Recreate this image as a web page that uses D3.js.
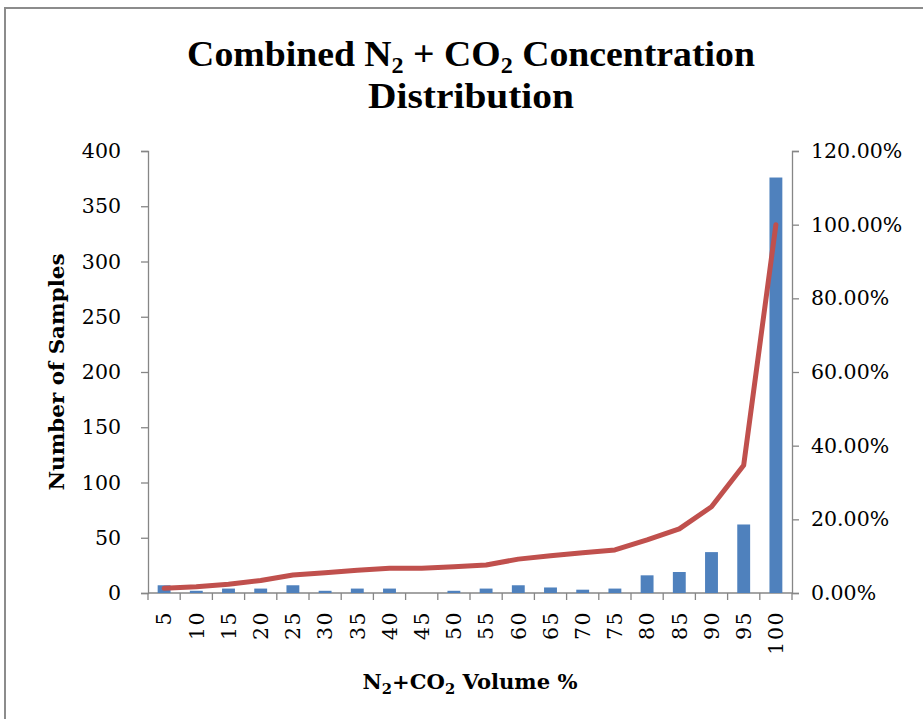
<!DOCTYPE html>
<html><head><meta charset="utf-8">
<script src="https://cdn.jsdelivr.net/npm/d3@7"></script>
<style>body{margin:0;background:#fff}svg{display:block}</style>
</head><body>
<svg id="c" width="923" height="719"></svg>
<script>
const categories = ["5","10","15","20","25","30","35","40","45","50","55","60","65","70","75","80","85","90","95","100"];
const sampleCounts = [7,2,4,4,7,2,4,4,0,2,4,7,5,3,4,16,19,37,62,376];
const cumulativePct = [0.0128,0.017,0.024,0.034,0.049,0.055,0.062,0.067,0.067,0.071,0.076,0.092,0.101,0.109,0.117,0.144,0.174,0.234,0.347,1.0];
const leftTicks = [0,50,100,150,200,250,300,350,400];
const rightTicks = [0,0.2,0.4,0.6,0.8,1.0,1.2];

const svg = d3.select("#c");
const W = 923, H = 719;
const L = 148, R = 792, T = 151, B = 593;
const serif = "'DejaVu Serif', serif";
const axisColor = "#868686";

// chart frame
svg.append("rect").attr("x",5).attr("y",8).attr("width",W+20).attr("height",H+20)
  .attr("fill","#fff").attr("stroke","#8c8c8c").attr("stroke-width",2);

const x = d3.scaleBand().domain(categories).range([L,R]).padding(0);
const yL = d3.scaleLinear().domain([0,400]).range([B,T]);
const yR = d3.scaleLinear().domain([0,1.2]).range([B,T]);

// left axis
const gl = svg.append("g").attr("transform",`translate(${L},0)`)
  .call(d3.axisLeft(yL).tickValues(leftTicks).tickSize(7).tickPadding(20));
// right axis
const gr = svg.append("g").attr("transform",`translate(${R},0)`)
  .call(d3.axisRight(yR).tickValues(rightTicks).tickFormat(d3.format(".2%")).tickSize(7).tickPadding(12));
[gl,gr].forEach(g=>{
  g.select(".domain").attr("stroke",axisColor).attr("stroke-width",1.3);
  g.selectAll(".tick line").attr("stroke",axisColor).attr("stroke-width",1.3);
  g.selectAll(".tick text").attr("font-family",serif).attr("font-size",20.5).attr("fill","#000");
});

// x axis: line and boundary ticks
const gx = svg.append("g");
gx.append("line").attr("x1",L).attr("x2",R).attr("y1",B).attr("y2",B)
  .attr("stroke",axisColor).attr("stroke-width",1.3);
const bounds = categories.map(c=>x(c)).concat([x(categories[categories.length-1])+x.bandwidth()]);
gx.selectAll("line.tk").data(bounds).join("line").attr("class","tk")
  .attr("x1",d=>d).attr("x2",d=>d).attr("y1",B).attr("y2",B+7)
  .attr("stroke",axisColor).attr("stroke-width",1.3);
gx.selectAll("text").data(categories).join("text")
  .attr("transform",d=>`translate(${x(d)+x.bandwidth()/2},611) rotate(-90)`)
  .attr("text-anchor","end").attr("dy","0.36em")
  .attr("font-family",serif).attr("font-size",20.5).attr("letter-spacing",1.5)
  .text(d=>d);

// bars
const bw = x.bandwidth()*0.4;
svg.append("g").selectAll("rect").data(categories).join("rect")
  .attr("x",(d)=>x(d)+x.bandwidth()/2-bw/2)
  .attr("width",bw)
  .attr("y",(d,i)=>yL(sampleCounts[i]))
  .attr("height",(d,i)=>B-yL(sampleCounts[i]))
  .attr("fill","#4F81BD");

// cumulative line
const line = d3.line()
  .x((d,i)=>x(categories[i])+x.bandwidth()/2)
  .y(d=>yR(d));
svg.append("path").datum(cumulativePct).attr("d",line)
  .attr("fill","none").attr("stroke","#C0504D").attr("stroke-width",5)
  .attr("stroke-linecap","round").attr("stroke-linejoin","round");

// helper to fit text width horizontally
function fit(t, cx, y, target){
  const w = t.node().getComputedTextLength();
  const s = target / w;
  t.attr("text-anchor","middle").attr("transform",`translate(${cx},${y}) scale(${s},1)`);
}
const titleFont = "'Liberation Serif', serif";
// title line 1
const t1 = svg.append("text").attr("font-family",titleFont).attr("font-weight","bold").attr("font-size",36);
t1.append("tspan").text("Combined N");
t1.append("tspan").attr("font-size",23).attr("dy",7).text("2");
t1.append("tspan").attr("dy",-7).text(" + CO");
t1.append("tspan").attr("font-size",23).attr("dy",7).text("2");
t1.append("tspan").attr("dy",-7).text(" Concentration");
fit(t1, 471, 66, 568);
const t2 = svg.append("text").attr("font-family",titleFont).attr("font-weight","bold").attr("font-size",36)
  .text("Distribution");
fit(t2, 471, 108, 206);

// y axis title
const yt = svg.append("text").attr("font-family",serif).attr("font-weight","bold").attr("font-size",20)
  .text("Number of Samples");
{
  const w = yt.node().getComputedTextLength();
  yt.attr("text-anchor","middle").attr("transform",`translate(64,${(T+B)/2}) rotate(-90) scale(${237/w},1)`);
}
// x axis title
const xt = svg.append("text").attr("font-family",serif).attr("font-weight","bold").attr("font-size",20);
xt.append("tspan").text("N");
xt.append("tspan").attr("font-size",14).attr("dy",5).text("2");
xt.append("tspan").attr("dy",-5).text("+CO");
xt.append("tspan").attr("font-size",14).attr("dy",5).text("2");
xt.append("tspan").attr("dy",-5).text(" Volume %");
fit(xt, 470, 689, 215);
</script>
</body></html>
